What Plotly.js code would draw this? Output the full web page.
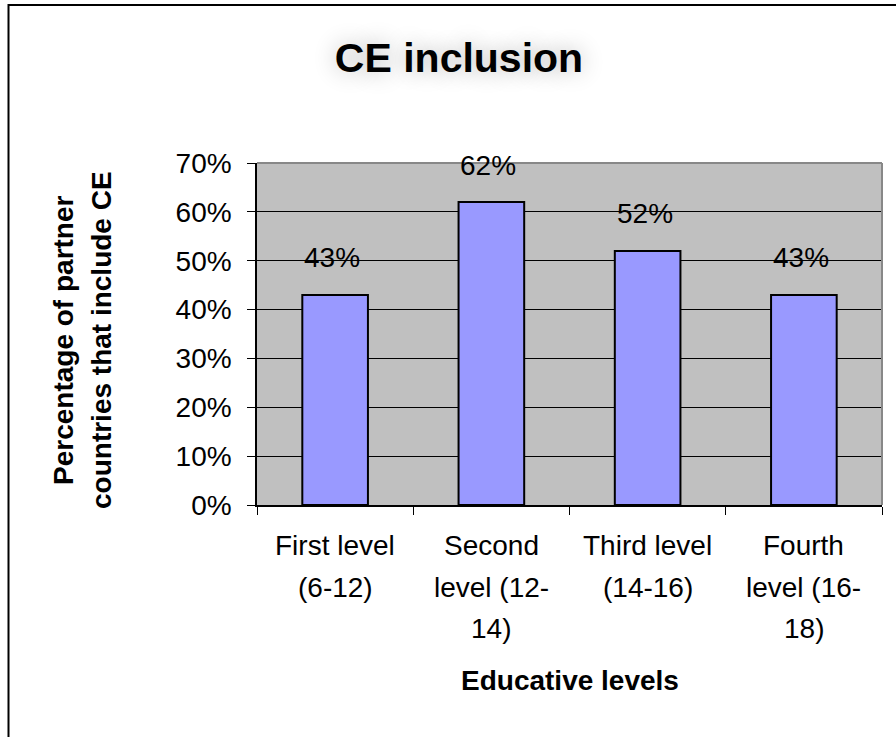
<!DOCTYPE html>
<html>
<head>
<meta charset="utf-8">
<script src="https://cdn.plot.ly/plotly-3.0.1.min.js"></script>
<style>
  html, body { margin: 0; padding: 0; background: #ffffff; }
  #chart { width: 896px; height: 737px; }
</style>
</head>
<body>
<div id="chart"></div>
<script>
// Share of partner countries that include CE, by educative level
const categories = [
  'First level (6-12)',
  'Second level (12-14)',
  'Third level (14-16)',
  'Fourth level (16-18)'
];
const values = [43, 62, 52, 43];
const tickLines = [
  ['First level', '(6-12)'],
  ['Second', 'level (12-', '14)'],
  ['Third level', '(14-16)'],
  ['Fourth', 'level (16-', '18)']
];
const yTickValues = [0, 10, 20, 30, 40, 50, 60, 70];
const yTickLabels = ['0%', '10%', '20%', '30%', '40%', '50%', '60%', '70%'];
const chartTitle = 'CE inclusion';
const xTitle = 'Educative levels';
const yTitleLines = ['Percentage of partner', 'countries that include CE'];

const W = 896, H = 737;
const M = { l: 257, r: 14, t: 163, b: 232 };
const plotW = W - M.l - M.r, plotH = H - M.t - M.b;
// pixel -> paper helpers for layout decorations
const px = p => (p - M.l) / plotW;
const py = p => (H - M.b - p) / plotH;

const FONT = 'Arial, "Liberation Sans", sans-serif';
const TXT = 28;

const annotations = [];

// value labels above each bar
categories.forEach((c, i) => {
  annotations.push({
    x: c, y: values[i], xref: 'x', yref: 'y',
    text: values[i] + '%', showarrow: false,
    xanchor: 'center', yanchor: 'middle', yshift: 37, xshift: -3,
    font: { family: FONT, size: TXT, color: '#000000' }
  });
});

// wrapped category labels, one line per annotation
const lineY = [545, 587, 628];
categories.forEach((c, i) => {
  tickLines[i].forEach((line, j) => {
    annotations.push({
      x: c, xref: 'x', y: py(lineY[j]), yref: 'paper',
      text: line, showarrow: false,
      xanchor: 'center', yanchor: 'middle',
      font: { family: FONT, size: TXT, color: '#000000' }
    });
  });
});

// axis titles
annotations.push({
  x: 0.5, xref: 'paper', y: py(680), yref: 'paper',
  text: '<b>' + xTitle + '</b>', showarrow: false,
  xanchor: 'center', yanchor: 'middle',
  font: { family: FONT, size: TXT, color: '#000000' }
});
const yTitleX = [63, 101];
yTitleLines.forEach((line, j) => {
  annotations.push({
    x: px(yTitleX[j]), xref: 'paper', y: py(340), yref: 'paper',
    text: '<b>' + line + '</b>', showarrow: false, textangle: -90,
    xanchor: 'center', yanchor: 'middle',
    font: { family: FONT, size: TXT, color: '#000000' }
  });
});

const trace = {
  type: 'bar',
  x: categories,
  y: values,
  marker: { color: '#9999ff', line: { color: '#000000', width: 2 } },
  hoverinfo: 'x+y'
};

const layout = {
  width: W, height: H,
  margin: M,
  paper_bgcolor: '#ffffff',
  plot_bgcolor: '#c0c0c0',
  showlegend: false,
  bargap: 0.58,
  title: {
    text: '<b>' + chartTitle + '</b>',
    x: 459 / W, xref: 'container', xanchor: 'center',
    y: 1 - 58 / H, yref: 'container', yanchor: 'middle',
    font: { family: FONT, size: 41, color: '#000000', shadow: '0px 0px 22px rgba(0,0,0,0.3)' }
  },
  xaxis: {
    type: 'category',
    showticklabels: false,
    ticks: 'outside', tickson: 'boundaries', ticklen: 8, tickwidth: 1, tickcolor: '#000000',
    showline: true, linecolor: '#000000', linewidth: 1.5,
    showgrid: false, zeroline: false,
    fixedrange: true
  },
  yaxis: {
    range: [0, 70],
    tickvals: yTickValues, ticktext: yTickLabels,
    ticks: 'outside', ticklen: 8, tickwidth: 1, tickcolor: '#000000',
    ticklabelstandoff: 10,
    tickfont: { family: FONT, size: TXT, color: '#000000' },
    showline: true, linecolor: '#000000', linewidth: 1.5,
    showgrid: true, gridcolor: '#000000', gridwidth: 1,
    zeroline: false,
    fixedrange: true
  },
  shapes: [
    // grey top and right edges of the plot area
    { type: 'line', xref: 'paper', yref: 'paper', x0: 0, x1: 1, y0: 1, y1: 1,
      line: { color: '#888888', width: 2 }, layer: 'above' },
    { type: 'line', xref: 'paper', yref: 'paper', x0: 1, x1: 1, y0: 0, y1: 1,
      line: { color: '#888888', width: 2 }, layer: 'above' },
    // outer chart frame (left and top edges)
    { type: 'path', xref: 'paper', yref: 'paper',
      path: 'M ' + px(8.5) + ' ' + py(H + 20) + ' L ' + px(8.5) + ' ' + py(5) + ' L ' + px(W + 20) + ' ' + py(5),
      line: { color: '#000000', width: 2 }, layer: 'above' }
  ],
  annotations: annotations
};

Plotly.newPlot('chart', [trace], layout, { displayModeBar: false, responsive: false });
</script>
</body>
</html>
